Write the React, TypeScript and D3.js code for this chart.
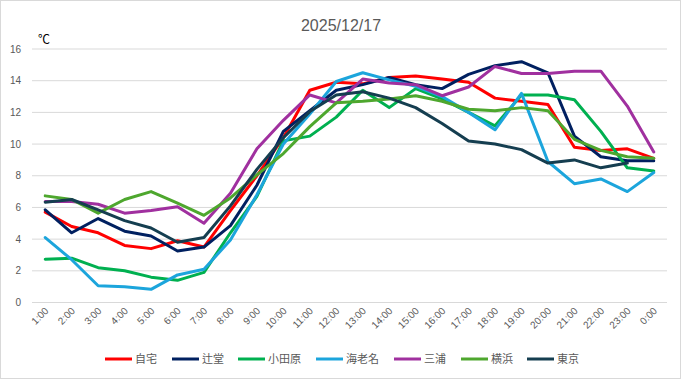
import React from "react";
import * as d3 from "d3";

const hours = ["1:00","2:00","3:00","4:00","5:00","6:00","7:00","8:00","9:00","10:00","11:00","12:00","13:00","14:00","15:00","16:00","17:00","18:00","19:00","20:00","21:00","22:00","23:00","0:00"];
const yTicks = [0, 2, 4, 6, 8, 10, 12, 14, 16];

const jitaku = [5.7,4.8,4.4,3.6,3.4,3.9,3.5,5.8,8.0,10.4,13.4,13.9,13.8,14.2,14.3,14.1,13.9,12.9,12.7,12.5,9.8,9.6,9.7,9.1];
const tsujido = [5.85,4.4,5.3,4.5,4.2,3.25,3.5,4.85,7.4,10.8,12.1,13.4,13.75,14.2,13.75,13.5,14.4,14.95,15.2,14.5,10.5,9.2,8.95,8.95];
const odawara = [2.73,2.8,2.2,2.0,1.6,1.4,1.9,4.4,6.7,10.2,10.5,11.7,13.4,12.3,13.5,12.85,12.0,11.15,13.1,13.1,12.8,10.8,8.5,8.3];
const ebina = [4.1,2.7,1.06,1.0,0.83,1.74,2.1,3.95,6.8,10.0,11.9,13.95,14.5,14.05,13.65,13.0,12.0,10.9,13.2,8.9,7.5,7.8,7.0,8.2];
const miura = [6.37,6.37,6.2,5.64,5.8,6.05,5.0,6.9,9.7,11.5,13.1,12.6,14.1,13.85,13.75,13.05,13.6,14.9,14.45,14.45,14.6,14.6,12.4,9.5];
const yokohama = [6.73,6.5,5.64,6.5,7.0,6.27,5.5,6.6,8.05,9.4,11.1,12.6,12.7,12.85,13.05,12.7,12.2,12.1,12.3,12.1,10.3,9.6,9.2,9.1];
const tokyo: (number | null)[] = [6.33,6.5,5.85,5.17,4.7,3.8,4.1,6.1,8.4,10.4,12.05,13.1,13.3,12.9,12.3,11.3,10.2,10.0,9.65,8.8,9.0,8.5,8.8,null];

const seriesNames = ["自宅","辻堂","小田原","海老名","三浦","横浜","東京"];
const seriesColors = ["#FF0000","#002060","#00B050","#1CA5DC","#A0309F","#4EA72E","#153E50"];
const seriesData: (number | null)[][] = [jitaku, tsujido, odawara, ebina, miura, yokohama, tokyo];

const W = 681, H = 379;
const plotLeft = 32, plotRight = 667, plotTop = 49, plotBottom = 302.5;
const legendX = [105, 172, 238, 316, 394, 461, 527];

export default function App() {
  const x = d3.scaleBand<string>().domain(hours).range([plotLeft, plotRight]);
  const y = d3.scaleLinear().domain([0, 16]).range([plotBottom, plotTop]);
  const cx = (h: string) => (x(h) as number) + x.bandwidth() / 2;
  const line = d3.line<number | null>()
    .defined((d) => d !== null)
    .x((_, i) => cx(hours[i]))
    .y((d) => y(d as number));
  const font = "'Liberation Sans', Arial, sans-serif";
  const cjk = "'Noto Sans CJK JP', sans-serif";
  return (
    <div style={{ position: "absolute", left: 0, top: 0 }}>
      <svg width={W} height={H} style={{ display: "block", background: "#fff" }}>
        <rect x={0.5} y={0.5} width={W - 1} height={H - 1} fill="#fff" stroke="#D9D9D9" />
        <text x={341} y={31} textAnchor="middle" fontFamily={font} fontSize={16} fill="#595959">2025/12/17</text>
        <text x={38} y={44} fontFamily={cjk} fontSize={12} fill="#000">℃</text>
        {yTicks.map((t) => (
          <g key={t}>
            <line x1={plotLeft} x2={plotRight} y1={y(t)} y2={y(t)} stroke="#D9D9D9" strokeWidth={1} />
            <text x={21} y={y(t) + 3.5} textAnchor="end" fontFamily={font} fontSize={10} fill="#595959">{t}</text>
          </g>
        ))}
        {hours.map((h) => (
          <text key={h} transform={`translate(${cx(h) + 4},${plotBottom + 9}) rotate(-45)`} textAnchor="end" fontFamily={font} fontSize={10} fill="#595959">{h}</text>
        ))}
        {seriesData.map((s, i) => (
          <path key={seriesNames[i]} d={line(s) || ""} fill="none" stroke={seriesColors[i]} strokeWidth={3} strokeLinejoin="round" strokeLinecap="round" />
        ))}
        {seriesNames.map((n, i) => (
          <g key={n}>
            <line x1={legendX[i]} x2={legendX[i] + 27} y1={359} y2={359} stroke={seriesColors[i]} strokeWidth={3} />
            <text x={legendX[i] + 30} y={363} fontFamily={cjk} fontSize={11} fill="#595959">{n}</text>
          </g>
        ))}
      </svg>
    </div>
  );
}
